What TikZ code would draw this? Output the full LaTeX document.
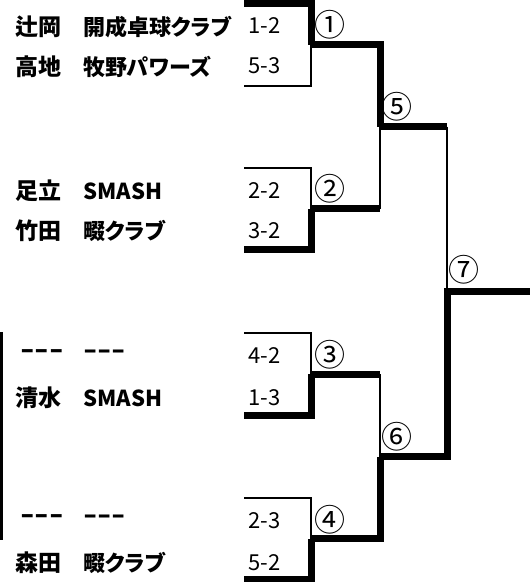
\documentclass[tikz,border=0pt]{standalone}
\usepackage{fontspec}
\setmainfont{Noto Sans CJK JP}[RawFeature=+palt]
\usetikzlibrary{positioning}

\begin{document}
\begin{tikzpicture}[x=1pt, y=-1pt,
        win/.style={line width=7pt},
        lose/.style={line width=2pt},
        player/.style={anchor=west, inner sep=0pt, font=\fontsize{23}{23}\selectfont\bfseries},
        team/.style={player, font=\fontsize{22}{22}\selectfont\bfseries},
        score/.style={anchor=west, inner sep=0pt, font=\fontsize{22}{22}\selectfont},
        round/.style={inner sep=0pt, font=\fontsize{31}{31}\selectfont}]
    \useasboundingbox (0,0) rectangle (530,582);

    % names and teams
    \node[player] (p1) at (15,27) {辻岡};
    \node[team] (t1) at (83,27) {開成卓球クラブ};
    \node[player] (p2) at (15,67) {高地};
    \node[team] (t2) at (83,67) {牧野パワーズ};
    \node[player] (p3) at (15,191) {足立};
    \node[team] (t3) at (83,191) {SMASH};
    \node[player] (p4) at (15,231) {竹田};
    \node[team] (t4) at (83,231) {畷クラブ};
    \node[player] (p5) at (20,354) {\scalebox{1.65}[1.1]{{-}{-}{-}}};
    \node[team] (t5) at (83,354) {\scalebox{1.7}[1.1]{{-}{-}{-}}};
    \node[player] (p6) at (15,398) {清水};
    \node[team] (t6) at (83,398) {SMASH};
    \node[player] (p7) at (20,519) {\scalebox{1.65}[1.1]{{-}{-}{-}}};
    \node[team] (t7) at (83,519) {\scalebox{1.7}[1.1]{{-}{-}{-}}};
    \node[player] (p8) at (15,563) {森田};
    \node[team] (t8) at (83,563) {畷クラブ};

    % scores
    \node[score] (s1) at (248,26) {1-2};
    \node[score] (s2) at (248,66) {5-3};
    \node[score] (s3) at (248,191) {2-2};
    \node[score] (s4) at (248,231) {3-2};
    \node[score] (s5) at (248,356) {4-2};
    \node[score] (s6) at (248,398) {1-3};
    \node[score] (s7) at (248,521) {2-3};
    \node[score] (s8) at (248,563) {5-2};

    % match numbers
    \node[round] (r1) at (330,25) {①};
    \node[round] (r2) at (330,189) {②};
    \node[round] (r3) at (330,355) {③};
    \node[round] (r4) at (330,520) {④};
    \node[round] (r5) at (397,107) {⑤};
    \node[round] (r6) at (397,437) {⑥};
    \node[round] (r7) at (464,270) {⑦};

    % bracket points
    \coordinate (m1t) at (244,3.5);
    \coordinate (m1b) at (244,85.5);
    \coordinate (m1) at (311,44.5);
    \coordinate (m2t) at (244,167.5);
    \coordinate (m2b) at (244,249.5);
    \coordinate (m2) at (311,208.5);
    \coordinate (m3t) at (244,333);
    \coordinate (m3b) at (244,415);
    \coordinate (m3) at (311,374);
    \coordinate (m4t) at (244,498);
    \coordinate (m4b) at (244,579);
    \coordinate (m4) at (311,538.5);
    \coordinate (m2e) at (380,208.5);
    \coordinate (m5) at (380,126.5);
    \coordinate (m3e) at (380,374);
    \coordinate (m6) at (380,456.5);
    \coordinate (m5e) at (447,126.5);
    \coordinate (m7) at (447,291);
    \coordinate (champ) at (530,291);
    \coordinate (sideT) at (1.5,332);
    \coordinate (sideB) at (1.5,540);

    % first round
    \draw[win] (m1t) -| (m1);
    \draw[lose] (m1b) -| (m1);
    \draw[lose] (m2t) -| (m2);
    \draw[win] (m2b) -| (m2);
    \draw[lose] (m3t) -| (m3);
    \draw[win] (m3b) -| (m3);
    \draw[lose] (m4t) -| (m4);
    \draw[win] (m4b) -| (m4);

    % second round
    \draw[win] (m1) -| (m5);
    \draw[win] (m2) -- (m2e);
    \draw[lose] (m2e) -- (m5);
    \draw[win] (m3) -- (m3e);
    \draw[lose] (m3e) -- (m6);
    \draw[win] (m4) -| (m6);

    % final
    \draw[win] (m5) -- (m5e);
    \draw[lose] (m5e) -- (m7);
    \draw[win] (m6) -| (m7) -- (champ);

    \draw[line width=2.5pt] (sideT) -- (sideB);
\end{tikzpicture}
\end{document}
